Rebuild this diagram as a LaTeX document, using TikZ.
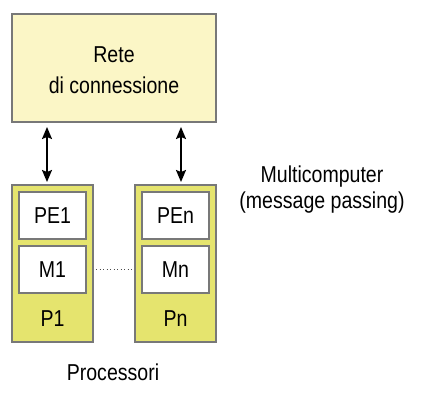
\documentclass[tikz,border=0pt]{standalone}
\usepackage{fontspec}
\setmainfont{Liberation Sans}[FakeStretch=0.85]
\usetikzlibrary{arrows.meta}
\definecolor{netfill}{RGB}{251,246,198}
\definecolor{procfill}{RGB}{229,228,110}
\definecolor{edge}{RGB}{120,120,120}
\tikzset{
  netbox/.style={draw=edge, line width=1.3pt, fill=netfill},
  procbox/.style={draw=edge, line width=1.3pt, fill=procfill},
  membox/.style={draw=edge, line width=1.3pt, fill=white},
  lbl/.style={font=\fontsize{23}{26}\selectfont, text=black, align=center, inner sep=0pt},
  link/.style={line width=1.8pt, {Stealth[length=12pt,width=10pt,inset=2pt]}-{Stealth[length=12pt,width=10pt,inset=2pt]}, shorten <=5pt, shorten >=3pt},
}
\begin{document}
\begin{tikzpicture}[x=1pt,y=-1pt]
\useasboundingbox (0,0) rectangle (424,402);
% network
\draw[netbox] (12,14) rectangle (216,122);
\node[lbl] (net1) at (114,55) {Rete};
\node[lbl] (net2) at (114,85) {di connessione};
\coordinate (netS) at (114,122);
% processors
\draw[procbox] (12,185) rectangle (93,342);
\coordinate (p1N) at (52.5,185);
\draw[membox] (19,192) rectangle (86,239);
\node[lbl] (pe1) at (52.5,215.5) {PE1};
\draw[membox] (19,246) rectangle (86,293);
\node[lbl] (m1) at (52.5,269.5) {M1};
\node[lbl] (p1) at (52.5,319) {P1};
\draw[procbox] (135,185) rectangle (216,342);
\coordinate (pnN) at (175.5,185);
\draw[membox] (142,192) rectangle (209,239);
\node[lbl] (pen) at (175.5,215.5) {PEn};
\draw[membox] (142,246) rectangle (209,293);
\node[lbl] (mn) at (175.5,269.5) {Mn};
\node[lbl] (pn) at (175.5,319) {Pn};
% arrows
\coordinate (a1) at (47,0);
\coordinate (a2) at (181,0);
\draw[link] (netS -| a1) -- (p1N -| a1);
\draw[link] (netS -| a2) -- (pnN -| a2);
% dotted
\coordinate (d1) at (96,269.5);
\coordinate (d2) at (132,269.5);
\draw[black!70, line width=1.1pt, dash pattern=on 1.1pt off 2.4pt] (d1) -- (d2);
% labels
\node[lbl] (proc) at (113,372) {Processori};
\node[lbl] (mc) at (322,190) {Multicomputer\\(message passing)};
\end{tikzpicture}
\end{document}
